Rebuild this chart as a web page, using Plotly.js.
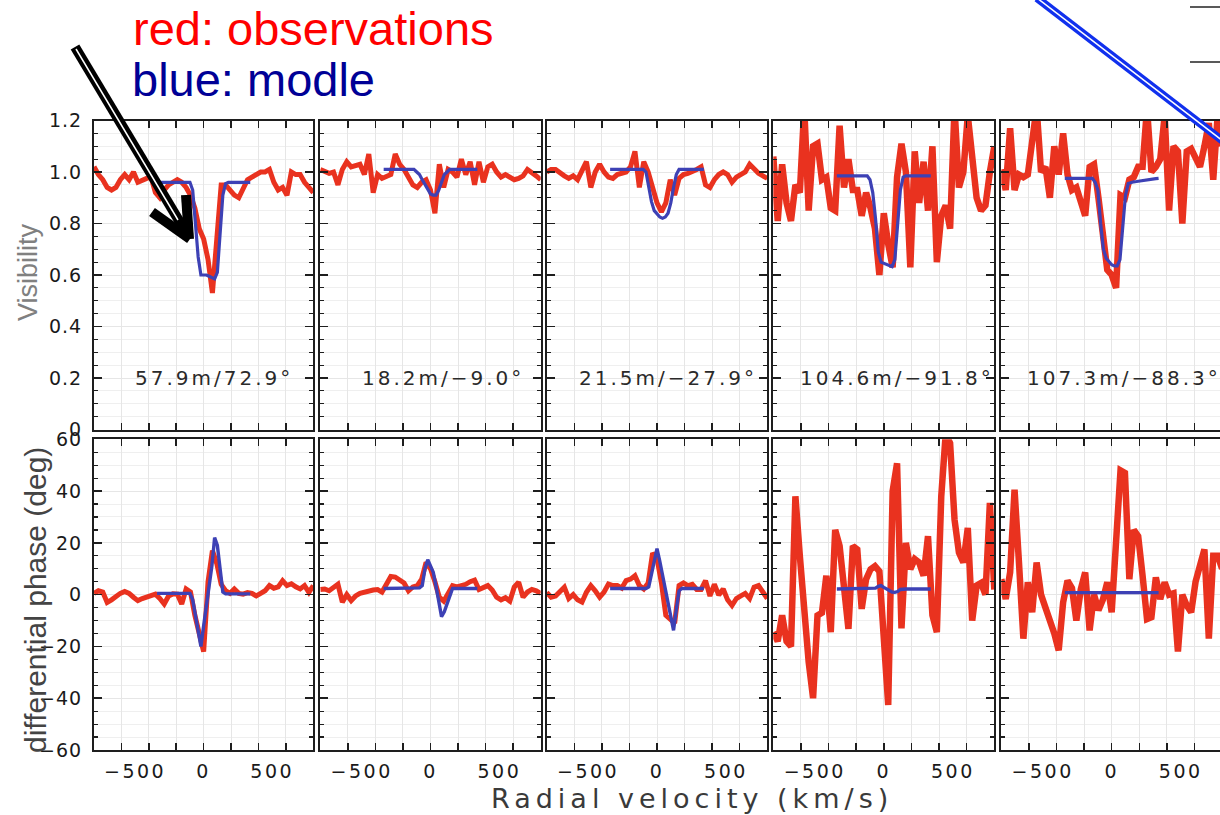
<!DOCTYPE html>
<html>
<head>
<meta charset="utf-8">
<script src="https://cdn.plot.ly/plotly-3.0.1.min.js"></script>
<style>
html,body{margin:0;padding:0;background:#fff;}
#chart{width:1220px;height:815px;}
</style>
</head>
<body>
<div id="chart"></div>
<script>
// ---------------- DATA ----------------
const vel = [-800,-768,-736,-704,-672,-640,-608,-576,-544,-512,-480,-448,-416,-384,-352,-320,-288,-256,-224,-192,-160,-128,-96,-64,-32,0,32,64,96,128,160,192,224,256,288,320,352,384,416,448,480,512,544,576,608,640,672,704,736,768,800];
const modVel = [-340,-320,-300,-280,-260,-240,-220,-200,-180,-160,-140,-120,-100,-80,-60,-40,-20,0,20,40,60,80,100,120,140,160,180,200,220,240,260,280,300,320,340];

const visObs1 = [1.02,0.99,0.97,0.94,0.93,0.94,0.97,0.99,0.97,1.00,0.96,0.97,0.975,0.98,0.92,0.90,0.93,0.95,0.96,0.97,0.96,0.94,0.91,0.86,0.78,0.74,0.66,0.53,0.74,0.95,0.95,0.93,0.91,0.90,0.94,0.97,0.98,0.99,1.00,1.00,1.01,0.96,0.93,0.94,0.91,1.00,0.99,0.99,0.96,0.94,0.92];
const visObs2 = [1.01,1.0,0.995,1.0,0.95,1.01,1.04,1.02,1.025,1.03,0.99,1.07,0.92,0.99,0.975,0.98,0.99,1.07,1.03,1.01,0.975,0.95,0.94,0.96,0.97,0.93,0.84,1.03,0.94,1.01,1.0,0.98,1.05,0.99,1.04,0.95,1.04,0.96,1.02,1.03,1.0,0.98,0.99,0.98,0.97,0.975,0.985,1.01,1.0,0.985,0.97];
const visObs3 = [1.0,1.01,1.01,0.995,0.985,0.975,0.985,0.97,1.01,1.04,0.94,1.0,1.03,1.0,0.98,0.975,0.99,0.995,1.0,1.02,1.08,0.94,1.04,1.0,0.93,0.88,0.845,0.88,0.97,0.91,0.975,0.99,0.995,1.0,1.01,1.02,0.95,0.94,0.97,0.99,1.0,0.99,0.96,0.98,0.99,1.0,1.03,1.01,0.995,0.985,0.975];
const visObs4 = [1.06,0.81,1.03,0.88,0.81,0.95,0.92,1.25,0.85,1.1,1.11,0.97,0.98,0.86,0.85,1.18,0.94,1.05,0.93,0.93,0.83,0.92,0.86,0.78,0.60,0.84,0.72,0.63,0.98,1.11,1.0,0.63,1.08,0.88,1.04,0.85,1.1,0.65,0.83,0.87,0.78,1.25,0.94,1.0,1.22,1.03,0.9,0.85,0.87,1.0,1.1];
const visObs5 = [1.01,0.93,1.17,0.93,0.99,0.98,0.99,1.15,1.25,1.0,1.02,0.9,1.1,0.99,1.15,0.99,0.93,0.94,0.88,0.83,1.02,1.03,0.9,0.78,0.62,0.60,0.55,0.91,0.90,0.97,0.98,1.02,1.02,1.25,1.0,1.02,1.05,1.22,0.85,1.1,1.08,0.80,1.08,1.09,1.06,1.02,1.1,1.19,0.97,1.22,1.1];

const visMod1 = [0.96,0.96,0.96,0.96,0.96,0.96,0.96,0.96,0.96,0.96,0.96,0.96,0.96,0.93,0.80,0.67,0.60,0.60,0.60,0.595,0.59,0.585,0.61,0.77,0.91,0.955,0.96,0.96,0.96,0.96,0.96,0.96,0.96,0.96,0.96];
const visMod2 = [1.01,1.01,1.01,1.01,1.01,1.01,1.01,1.01,1.01,1.01,1.01,1.01,1.0,0.99,0.97,0.95,0.93,0.915,0.91,0.91,0.93,0.96,0.99,1.0,1.01,1.01,1.01,1.01,1.01,1.01,1.01,1.01,1.01,1.01,1.01];
const visMod3 = [1.01,1.01,1.01,1.01,1.01,1.01,1.01,1.01,1.01,1.01,1.01,1.01,1.01,1.0,0.94,0.885,0.85,0.835,0.825,0.82,0.825,0.84,0.88,0.94,0.99,1.01,1.01,1.01,1.01,1.01,1.01,1.01,1.01,1.01,1.01];
const visMod4 = [0.985,0.985,0.985,0.985,0.985,0.985,0.985,0.985,0.985,0.985,0.985,0.985,0.97,0.92,0.82,0.69,0.65,0.645,0.64,0.635,0.632,0.66,0.80,0.93,0.98,0.985,0.985,0.985,0.985,0.985,0.985,0.985,0.985,0.985,0.985];
const visMod5 = [0.975,0.975,0.975,0.975,0.975,0.975,0.975,0.975,0.975,0.975,0.975,0.96,0.93,0.80,0.70,0.665,0.65,0.64,0.635,0.635,0.66,0.80,0.91,0.955,0.96,0.962,0.963,0.965,0.966,0.968,0.969,0.971,0.972,0.974,0.975];

const phiObs1 = [0.5,1.5,1.0,-3.0,-2.0,-0.5,0.5,1.2,0.5,-1.0,-2.3,-1.5,-0.8,0,0.2,-1.5,-3.6,-0.5,0.3,0.2,-3.6,2.2,1.0,-8,-15,-22,5,17,12,4,1.5,0.5,2.2,0.5,0.2,0.8,0.5,-0.5,0.5,1.5,3.5,2.5,3.0,5.4,3.5,4.2,3.0,2.2,3.5,0.9,3.5];
const phiObs2 = [2.0,2.2,1.5,2.8,4.0,-2.9,0,-2.3,-0.5,0.5,1.0,1.2,1.8,2.0,1.0,4.0,7.0,6.8,5.4,4.5,1.5,3.0,3.5,6.0,12.5,10,5,-1,-2.5,1.0,3.5,3.0,3.5,4.0,5.0,5.6,2.0,3.0,3.5,1.8,-1.0,-2.0,-1.2,-2.5,2.9,4.8,-1.0,1.0,2.0,1.5,0.5];
const phiObs3 = [0.9,-1.0,-0.5,1.0,2.9,-1.5,0,-2.0,-2.9,0.9,3.5,1.5,-1.0,1.0,4.1,3.5,3.5,2.5,5.4,6.0,7.3,3.5,2.2,4.5,16,14,4.5,-8,-9.5,-11,3.5,4.5,3.5,4.0,2.0,2.0,5.4,-0.5,4.0,-0.2,2.2,-2.0,-4.2,-1.5,-0.5,0.5,-1.5,2.9,3.5,0.9,-1.5];
const phiObs4 = [-14.5,-18,-8,-18,-20,38,15,-8,-26,-40,-8,-7,7.3,-14.5,25,18.8,2.2,-13.2,18.8,17.5,-5.5,6,9.8,11,9,-22,-42.6,40,50.7,-13,20,9.8,13.7,12.4,7.3,22.6,-8,-14.5,38,62,58.5,29,16.2,12.4,25.8,-10,3.5,4.5,0,35.4,2];
const phiObs5 = [6,-1.7,8.6,40.5,12.4,-17,4.8,-6.8,12.4,0,-5,-9.4,-15,-21.5,-3,5.4,2.5,-10,2,8.6,-13.8,0,-6,-2,4.8,-6.8,17.5,48,47,6,25,22.6,7.3,-9.4,-8.7,6.7,-1.7,4.8,0,0.5,-22,0,-4.2,-6.8,5,12.4,17.5,-17,15,15,10];

const phiMod1 = [0.5,0.5,0.5,0.5,0.5,0.5,0.5,0.5,0.5,0.5,0.5,0.5,0.5,-2,-8,-15,-20,-12,-4,4,11,22,19,10,1,0.3,0.3,0.3,0.3,0.3,0.3,0.3,0.3,0.3,0.3];
const phiMod2 = [2.4,2.4,2.4,2.4,2.4,2.4,2.4,2.4,2.4,2.4,2.4,2.4,2.4,2.6,3.5,10,13.5,11,8.6,3.3,-2.6,-8.5,-6.6,-3.3,0,2.4,2.4,2.4,2.4,2.4,2.4,2.4,2.4,2.4,2.4];
const phiMod3 = [2.4,2.4,2.4,2.4,2.4,2.4,2.4,2.4,2.4,2.4,2.4,2.4,2.4,2.4,3,7.8,12.6,17.8,13,7.6,2,-3.4,-8.9,-13.8,-5.8,1.5,2.4,2.4,2.4,2.4,2.4,2.4,2.4,2.4,2.4];
const phiMod4 = [2.2,2.2,2.2,2.2,2.2,2.2,2.2,2.2,2.2,2.2,2.2,2.2,2.2,2.2,2.5,3.2,3.5,2.8,2.2,1.5,1.0,0.9,1.2,2.0,2.2,2.2,2.2,2.2,2.2,2.2,2.2,2.2,2.2,2.2,2.2];
const phiMod5 = [0.8,0.8,0.8,0.8,0.8,0.8,0.8,0.8,0.8,0.8,0.8,0.8,0.8,0.8,0.8,0.8,0.8,0.8,0.8,0.8,0.8,0.8,0.8,0.8,0.8,0.8,0.8,0.8,0.8,0.8,0.8,0.8,0.8,0.8,0.8];

const baselineLabels = ['57.9m/72.9°','18.2m/−9.0°','21.5m/−27.9°','104.6m/−91.8°','107.3m/−88.3°'];
const visTickVals = [0,0.2,0.4,0.6,0.8,1.0,1.2];
const visTickText = ['0','0.2','0.4','0.6','0.8','1.0','1.2'];
const phiTickVals = [-60,-40,-20,0,20,40,60];
const phiTickText = ['−60','−40','−20','0','20','40','60'];
const velTickVals = [-600,-400,-200,0,200,400,600];
const velLabelVals = [-500,0,500];
const velLabelText = ['−500','0','500'];
const legendRed = 'red: observations';
const legendBlue = 'blue: modle';
const visTitle = 'Visibility';
const phiTitle = 'differential phase (deg)';
const velTitle = 'Radial velocity (km/s)';

// ---------------- BUILD ----------------
const visObs = [visObs1,visObs2,visObs3,visObs4,visObs5];
const visMod = [visMod1,visMod2,visMod3,visMod4,visMod5];
const phiObs = [phiObs1,phiObs2,phiObs3,phiObs4,phiObs5];
const phiMod = [phiMod1,phiMod2,phiMod3,phiMod4,phiMod5];

const W = 1220, H = 815;
const px = v => v / W;
const py = v => 1 - v / H;
const sp = (t, s) => '<span style="letter-spacing:' + s + 'px">' + t + '</span>';

const RED = '#e9321f', BLUE = '#3d41b5', FRAME = '#1e1e1e';
const redWidth = [5, 5, 5, 6.5, 6.5];
const xPix = [[94,313.3],[320.3,540.7],[546.7,767.3],[773.3,994.3],[1001.3,1220]];
const xRanges = [[-800,800],[-800,800],[-800,800],[-800,800],[-800,785]];
const topPix = [120.5, 429.5], botPix = [439.3, 750];
const tickFont = {family:'DejaVu Sans', size:19, color:'#1a1a1a'};

const traces = [];
for (let i = 0; i < 5; i++) {
  const base = {mode:'lines', hoverinfo:'skip', showlegend:false};
  traces.push(Object.assign({x:vel, y:visObs[i], xaxis:'x'+(i+1), yaxis:'y'+(i+1), line:{color:RED, width:redWidth[i]}}, base));
  traces.push(Object.assign({x:modVel, y:visMod[i], xaxis:'x'+(i+1), yaxis:'y'+(i+1), line:{color:BLUE, width:3.2}}, base));
  traces.push(Object.assign({x:vel, y:phiObs[i], xaxis:'x'+(i+6), yaxis:'y'+(i+6), line:{color:RED, width:redWidth[i]}}, base));
  traces.push(Object.assign({x:modVel, y:phiMod[i], xaxis:'x'+(i+6), yaxis:'y'+(i+6), line:{color:BLUE, width:3.4}}, base));
  traces.push(Object.assign({x:[0], y:[null], xaxis:'x'+(i+11), yaxis:'y'+(i+6), line:{color:'rgba(0,0,0,0)', width:0}}, base));
}

const layout = {
  width: W, height: H,
  margin: {l:0, r:0, t:0, b:0},
  paper_bgcolor: '#fff', plot_bgcolor: '#fff',
  font: {family:'DejaVu Sans', color:'#333'},
  showlegend: false,
  annotations: [], shapes: []
};

function key(prefix, n) { return n === 1 ? prefix : prefix + n; }

for (let row = 0; row < 2; row++) {
  for (let i = 0; i < 5; i++) {
    const n = row*5 + i + 1;
    const top = row === 0;
    const yp = top ? topPix : botPix;
    layout[key('xaxis', n)] = {
      domain: [xPix[i][0]/W, xPix[i][1]/W], range: xRanges[i], anchor: 'y'+n,
      tickmode:'array', tickvals: velTickVals, showticklabels:false,
      ticks:'inside', ticklen:7, tickwidth:1.5, tickcolor:FRAME,
      showline:true, linewidth:2, linecolor:FRAME, mirror:'ticks',
      showgrid:true, gridcolor:'#e6e6e6', gridwidth:1, zeroline:false, fixedrange:true
    };
    layout[key('yaxis', n)] = {
      domain: [1 - yp[1]/H, 1 - yp[0]/H], range: top ? [0,1.2] : [-60,60], anchor: 'x'+n,
      tickmode:'array', tickvals: top ? visTickVals : phiTickVals,
      ticktext: (top ? visTickText : phiTickText).map(t => sp(t, 1)),
      showticklabels: i === 0, tickfont: tickFont, ticklabelstandoff: 6,
      ticks:'inside', ticklen:8, tickwidth:1.5, tickcolor:FRAME,
      minor: {tickmode:'linear', tick0:0, dtick: top ? 0.05 : 5, ticks:'inside', ticklen:4, tickwidth:1.2, tickcolor:FRAME, showgrid:true, gridcolor:'#efefef', gridwidth:1},
      showline:true, linewidth:2, linecolor:FRAME, mirror: i === 4 ? false : 'ticks',
      showgrid:true, gridcolor:'#e6e6e6', gridwidth:1, zeroline:false, fixedrange:true
    };
  }
}
for (let i = 0; i < 5; i++) {
  layout['xaxis' + (i+11)] = {
    overlaying: 'x' + (i+6), anchor: 'y' + (i+6), side: 'bottom', range: xRanges[i],
    tickmode:'array', tickvals: velLabelVals, ticktext: velLabelText.map(t => sp(t, 2.5)),
    ticks:'', showline:false, showgrid:false, zeroline:false,
    tickfont: {family:'DejaVu Sans', size:19, color:'#1a1a1a'}, ticklabelstandoff: 8, fixedrange:true
  };
}

// panel baseline labels
const labelX = [-518,-510,-583,-622,-628];
for (let i = 0; i < 5; i++) {
  layout.annotations.push({xref:'x'+(i+1), yref:'y'+(i+1), x:labelX[i], y:0.2, xanchor:'left', yanchor:'middle',
    text: sp(baselineLabels[i], 3), showarrow:false, font:{family:'DejaVu Sans', size:20, color:'#2a2a2a'}});
}
// titles / legend text
layout.annotations.push(
  {xref:'paper', yref:'paper', x:px(131), y:py(28), xanchor:'left', yanchor:'middle', text:legendRed, showarrow:false,
   font:{family:'Liberation Sans', size:47, color:'#ff0000'}},
  {xref:'paper', yref:'paper', x:px(130), y:py(79), xanchor:'left', yanchor:'middle', text:legendBlue, showarrow:false,
   font:{family:'Liberation Sans', size:47, color:'#000096'}},
  {xref:'paper', yref:'paper', x:px(28), y:py(272), xanchor:'center', yanchor:'middle', textangle:-90, text:visTitle, showarrow:false,
   font:{family:'Liberation Sans', size:27, color:'#808080'}},
  {xref:'paper', yref:'paper', x:px(35), y:py(600), xanchor:'center', yanchor:'middle', textangle:-90, text:phiTitle, showarrow:false,
   font:{family:'Liberation Sans', size:30, color:'#444'}},
  {xref:'paper', yref:'paper', x:px(692), y:py(798), xanchor:'center', yanchor:'middle', text:sp(velTitle, 5), showarrow:false,
   font:{family:'DejaVu Sans', size:27, color:'#3a3a3a'}}
);

// decorations (arrow, pointer line, marks at top-right)
function seg(x0,y0,x1,y1,color,width){ return {type:'line', xref:'paper', yref:'paper', x0:px(x0), y0:py(y0), x1:px(x1), y1:py(y1), line:{color:color, width:width}}; }
layout.shapes.push(
  seg(75,47,187,234,'#000',10),
  seg(76,49,178,220,'#fff',1.5),
  seg(152,212,190,239,'#000',10),
  seg(186,195,189,239,'#000',10),
  seg(1037,-2,1232,148,'#1030ee',8),
  seg(1037,-2,1232,148,'#fff',1.5),
  seg(1190,7,1222,7,'#222',1.5),
  seg(1190,62,1222,62,'#222',1.5)
);

Plotly.newPlot('chart', traces, layout, {staticPlot:true, displayModeBar:false});
</script>
</body>
</html>
